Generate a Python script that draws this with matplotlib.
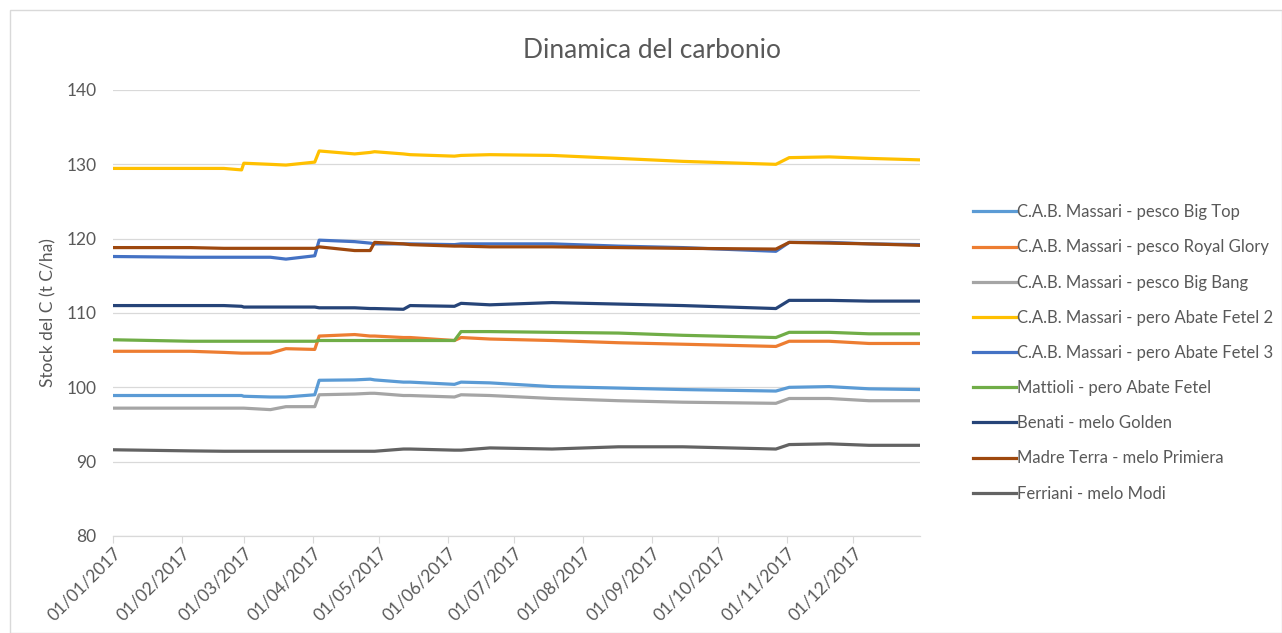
import numpy as np
import pandas as pd
import matplotlib
matplotlib.use("Agg")
import matplotlib.pyplot as plt
import matplotlib.dates as mdates
from matplotlib.patches import Rectangle

plt.rcParams['font.family'] = ['Lato', 'DejaVu Sans']

# sample dates (closely spaced around the step changes)
dates = pd.to_datetime([
    "2017-01-01", "2017-02-05", "2017-02-20", "2017-02-28", "2017-03-01",
    "2017-03-13", "2017-03-20", "2017-04-02", "2017-04-04", "2017-04-20",
    "2017-04-27", "2017-04-29", "2017-05-12", "2017-05-15", "2017-06-04",
    "2017-06-07", "2017-06-20", "2017-07-18", "2017-08-17", "2017-09-15",
    "2017-10-27", "2017-11-02", "2017-11-20", "2017-12-08", "2017-12-31",
])

# carbon stock (t C/ha) per orchard
big_top = [98.9, 98.9, 98.9, 98.9, 98.8, 98.7, 98.7, 99.0, 100.95, 101.0,
           101.1, 101.0, 100.7, 100.7, 100.4, 100.7, 100.6, 100.1, 99.9, 99.7,
           99.5, 100.0, 100.1, 99.8, 99.7]
royal_glory = [104.85, 104.85, 104.7, 104.6, 104.6, 104.6, 105.2, 105.1, 106.9, 107.1,
               106.9, 106.9, 106.7, 106.7, 106.3, 106.7, 106.5, 106.3, 106.0, 105.8,
               105.5, 106.2, 106.2, 105.9, 105.9]
big_bang = [97.2, 97.2, 97.2, 97.2, 97.2, 97.0, 97.4, 97.4, 99.0, 99.1,
            99.2, 99.2, 98.9, 98.9, 98.7, 99.0, 98.9, 98.5, 98.2, 98.0,
            97.85, 98.5, 98.5, 98.2, 98.2]
abate_2 = [129.45, 129.45, 129.45, 129.25, 130.15, 130.0, 129.9, 130.3, 131.8, 131.4,
           131.6, 131.7, 131.4, 131.3, 131.1, 131.2, 131.3, 131.2, 130.8, 130.4,
           130.0, 130.9, 131.0, 130.8, 130.6]
abate_3 = [117.6, 117.5, 117.5, 117.5, 117.5, 117.5, 117.25, 117.7, 119.8, 119.6,
           119.4, 119.3, 119.3, 119.3, 119.2, 119.3, 119.3, 119.3, 119.0, 118.8,
           118.3, 119.5, 119.5, 119.3, 119.2]
mattioli = [106.4, 106.2, 106.2, 106.2, 106.2, 106.2, 106.2, 106.2, 106.3, 106.3,
            106.3, 106.3, 106.3, 106.3, 106.3, 107.5, 107.5, 107.4, 107.3, 107.0,
            106.7, 107.4, 107.4, 107.2, 107.2]
benati = [111.0, 111.0, 111.0, 110.9, 110.8, 110.8, 110.8, 110.8, 110.7, 110.7,
          110.6, 110.6, 110.5, 111.0, 110.9, 111.3, 111.1, 111.4, 111.2, 111.0,
          110.6, 111.7, 111.7, 111.6, 111.6]
madre_terra = [118.8, 118.8, 118.7, 118.7, 118.7, 118.7, 118.7, 118.7, 118.9, 118.4,
               118.4, 119.5, 119.3, 119.2, 119.0, 119.0, 118.9, 118.9, 118.8, 118.7,
               118.6, 119.5, 119.4, 119.3, 119.1]
ferriani = [91.6, 91.45, 91.4, 91.4, 91.4, 91.4, 91.4, 91.4, 91.4, 91.4,
            91.4, 91.4, 91.7, 91.7, 91.55, 91.55, 91.85, 91.7, 92.0, 92.0,
            91.7, 92.3, 92.4, 92.2, 92.2]

labels = [
    "C.A.B. Massari - pesco Big Top",
    "C.A.B. Massari - pesco Royal Glory",
    "C.A.B. Massari - pesco Big Bang",
    "C.A.B. Massari - pero Abate Fetel 2",
    "C.A.B. Massari - pero Abate Fetel 3",
    "Mattioli - pero Abate Fetel",
    "Benati - melo Golden",
    "Madre Terra - melo Primiera",
    "Ferriani - melo Modi",
]
series = [big_top, royal_glory, big_bang, abate_2, abate_3,
          mattioli, benati, madre_terra, ferriani]
colors = ["#5B9BD5", "#ED7D31", "#A5A5A5", "#FFC000", "#4472C4",
          "#70AD47", "#264478", "#9E480E", "#636363"]

fig = plt.figure(figsize=(12.82, 6.33), dpi=100)
ax = fig.add_axes([113 / 1282, 1 - 536 / 633, 807 / 1282, 446 / 633])

# chart border
fig.patches.append(Rectangle((10 / 1282, 0), 1 - 10 / 1282, 1 - 10 / 633,
                             transform=fig.transFigure, fill=False,
                             edgecolor="#d9d9d9", linewidth=1))

for vals, lab, col in zip(series, labels, colors):
    ax.plot(dates, vals, color=col, lw=2.3, label=lab, solid_joinstyle="round")

ax.set_ylim(80, 140)
ax.set_yticks(np.arange(80, 141, 10))
ax.set_xlim(pd.Timestamp("2017-01-01"), pd.Timestamp("2017-12-31"))
ax.xaxis.set_major_locator(mdates.MonthLocator())
ax.xaxis.set_major_formatter(mdates.DateFormatter("%d/%m/%Y"))

ax.grid(axis="y", color="#d9d9d9", lw=0.9)
ax.set_axisbelow(True)
for s in ["top", "right", "left"]:
    ax.spines[s].set_visible(False)
ax.spines["bottom"].set_color("#d9d9d9")
ax.spines["bottom"].set_linewidth(0.9)

ax.tick_params(axis="y", length=0, labelsize=12.5, labelcolor="#595959", pad=12)
ax.tick_params(axis="x", length=5, color="#d9d9d9", labelsize=12.5,
               labelcolor="#595959", pad=1)
for t in ax.get_xticklabels():
    t.set_rotation(45)
    t.set_ha("right")
    t.set_rotation_mode("anchor")

ax.set_ylabel("Stock del C (t C/ha)", fontsize=12.5, color="#595959", labelpad=7)
fig.text(652 / 1282, 1 - 51 / 633, "Dinamica del carbonio", ha="center", va="center",
         fontsize=19, color="#595959")

fig.legend(loc="center left", bbox_to_anchor=(958 / 1282, 1 - 353 / 633),
           frameon=False, fontsize=12, labelcolor="#595959",
           handlelength=2.6, handletextpad=0.05, labelspacing=1.15)

fig.savefig("out.png", dpi=100)
